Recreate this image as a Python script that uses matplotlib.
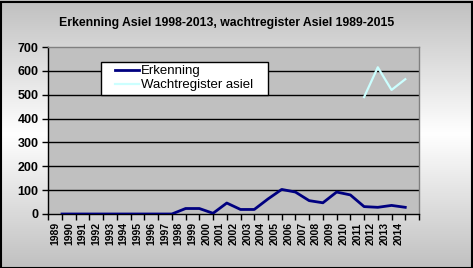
import numpy as np
import matplotlib
matplotlib.use("Agg")
import matplotlib.pyplot as plt
from matplotlib.colors import LinearSegmentedColormap

years = list(range(1989, 2015))
erkenning = [0, 0, 0, 0, 0, 0, 0, 0, 0, 23, 23, 3, 46, 19, 19, 63,
             103, 92, 56, 47, 92, 80, 31, 28, 36, 28]
wacht_years = [2011, 2012, 2013, 2014]
wachtregister = [490, 615, 520, 565]
yticks = [0, 100, 200, 300, 400, 500, 600, 700]
title = "Erkenning Asiel 1998-2013, wachtregister Asiel 1989-2015"

plt.rcParams['font.family'] = ['Liberation Sans', 'DejaVu Sans']

W, H = 473, 268
fig = plt.figure(figsize=(W / 100, H / 100), dpi=100)

# background gradient (vertical: gray - white - gray)
bg = fig.add_axes([0, 0, 1, 1], zorder=-10)
cmap = LinearSegmentedColormap.from_list(
    "g", [(0, "#c0c0c0"), (0.5, "#ffffff"), (1, "#c0c0c0")])
grad = np.linspace(0, 1, 256).reshape(-1, 1)
bg.imshow(grad, cmap=cmap, aspect="auto", extent=[0, 1, 0, 1], origin="upper")
bg.set_xlim(0, 1)
bg.set_ylim(0, 1)
bg.axis("off")
fig.patches.append(plt.Rectangle((0.5 / W, 0.5 / H), 1 - 2 / W, 1 - 2 / H,
                                 transform=fig.transFigure, fill=False,
                                 edgecolor="black", linewidth=1.5))

left, right, top, bottom = 48.3, 419, 47, 214
pw, ph = right - left, bottom - top
ax = fig.add_axes([left / W, 1 - bottom / H, pw / W, ph / H])
ax.set_facecolor("#c0c0c0")

xpos = [y - 1988 for y in years]
wpos = [y - 1988 for y in wacht_years]
ax.plot(xpos, erkenning, color="#000080", lw=2, label="Erkenning",
        solid_joinstyle="round", zorder=3)
ax.plot(wpos, wachtregister, color="#ccffff", lw=1.6,
        label="Wachtregister asiel", zorder=3)

ax.set_xlim(0, 27)
ax.set_ylim(0, 700)
ax.set_yticks(yticks)
ax.set_yticklabels([str(v) for v in yticks], fontsize=9, fontweight="bold")
for v in yticks[1:-1]:
    ax.axhline(v, color="black", lw=1, zorder=1)

ax.set_xticks(range(0, 28))
ax.set_xticklabels([])
ax.set_xticks([y - 1988 - 0.5 for y in years], minor=True)
ax.set_xticklabels([str(y) for y in years], minor=True, rotation=90,
                   fontsize=7.5, fontweight="bold", va="top", ha="center")
ax.tick_params(axis="x", which="minor", length=0, pad=6)
ax.tick_params(axis="x", which="major", length=4, width=1, color="black", direction="out")
ax.tick_params(axis="y", length=4, width=1, color="black", direction="out", pad=3)

for s in ["top", "right"]:
    ax.spines[s].set_color("#808080")
    ax.spines[s].set_linewidth(1)
for s in ["left", "bottom"]:
    ax.spines[s].set_color("black")
    ax.spines[s].set_linewidth(1)

fig.text(227 / W, 1 - 23 / H, title, ha="center", va="center",
         fontsize=8.8, fontweight="bold")

lx0, lx1, ly0, ly1 = 101, 268, 61.7, 96
leg = ax.legend(loc="upper left",
                bbox_to_anchor=((lx0 - left) / pw, 1 - (ly1 - top) / ph,
                                (lx1 - lx0) / pw, (ly1 - ly0) / ph),
                mode="expand",
                frameon=True, fancybox=False, fontsize=9.5, handlelength=2.6,
                borderpad=0.25, labelspacing=0.15, handletextpad=0.2,
                borderaxespad=0)
leg.get_frame().set_edgecolor("black")
leg.get_frame().set_linewidth(1)
leg.get_frame().set_facecolor("white")
leg.get_frame().set_alpha(1)
for ln in leg.get_lines():
    xd = np.asarray(ln.get_xdata(), dtype=float)
    start = xd.min() + (xd.max() - xd.min()) * 0.3
    ln.set_xdata(np.linspace(start, xd.max(), len(xd)))

fig.savefig("out.png", dpi=100)
